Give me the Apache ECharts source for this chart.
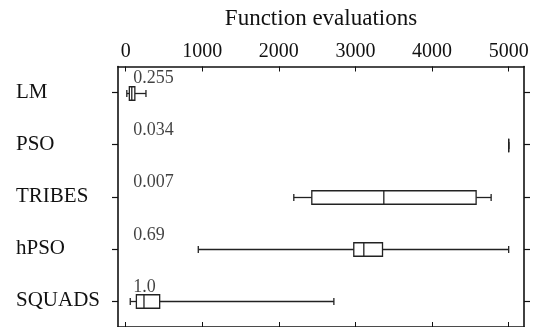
<!DOCTYPE html>
<html>
<head>
<meta charset="utf-8">
<script src="https://cdn.jsdelivr.net/npm/echarts@6/dist/echarts.min.js"></script>
<style>
html,body{margin:0;padding:0;background:#fff;}
#chart{width:536px;height:327px;}
</style>
</head>
<body>
<div id="chart"></div>
<script>
// ---- data ----
const categories = ['LM', 'PSO', 'TRIBES', 'hPSO', 'SQUADS'];
const whiskerLow  = [15,   5000, 2195, 948,  60];
const quartile1   = [48,   5000, 2430, 2978, 140];
const medians     = [80,   5000, 3370, 3109, 239];
const quartile3   = [120,  5000, 4575, 3353, 444];
const whiskerHigh = [265,  5000, 4771, 5000, 2718];
const annotations = ['0.255', '0.034', '0.007', '0.69', '1.0'];
const xTicks = [0, 1000, 2000, 3000, 4000, 5000];

// ---- style ----
const FONT = '"Liberation Serif", "Times New Roman", serif';
const INK = '#111111';
const ANNOT_X = 100;

const boxData = categories.map((c, i) => [i, whiskerLow[i], quartile1[i], medians[i], quartile3[i], whiskerHigh[i]]);
const annotData = categories.map((c, i) => [ANNOT_X, i]);

const chart = echarts.init(document.getElementById('chart'), null, {renderer: 'canvas'});

function renderBox(params, api) {
  const yi = api.value(0);
  const pLo = api.coord([api.value(1), yi]);
  const pQ1 = api.coord([api.value(2), yi]);
  const pMd = api.coord([api.value(3), yi]);
  const pQ3 = api.coord([api.value(4), yi]);
  const pHi = api.coord([api.value(5), yi]);
  const cy = Math.round(pMd[1]) + 0.5;
  const h = 13.5, cap = 7;
  const ls = {stroke: '#222', lineWidth: 1.3, fill: null};
  return {
    type: 'group',
    children: [
      {type: 'line', shape: {x1: pLo[0], y1: cy, x2: pQ1[0], y2: cy}, style: ls},
      {type: 'line', shape: {x1: pQ3[0], y1: cy, x2: pHi[0], y2: cy}, style: ls},
      {type: 'line', shape: {x1: pLo[0], y1: cy - cap / 2, x2: pLo[0], y2: cy + cap / 2}, style: ls},
      {type: 'line', shape: {x1: pHi[0], y1: cy - cap / 2, x2: pHi[0], y2: cy + cap / 2}, style: ls},
      {type: 'rect', shape: {x: pQ1[0], y: cy - h / 2, width: Math.max(pQ3[0] - pQ1[0], 0), height: h},
        style: {stroke: '#222', lineWidth: 1.3, fill: '#fff'}},
      {type: 'line', shape: {x1: pMd[0], y1: cy - h / 2, x2: pMd[0], y2: cy + h / 2}, style: ls}
    ]
  };
}

const axisLineStyle = {color: INK, width: 1.6};

chart.setOption({
  animation: false,
  backgroundColor: '#fff',
  grid: {left: 118, right: 12, top: 66.5, height: 264.5, containLabel: false},
  xAxis: [
    {
      type: 'value', position: 'top', min: -100, max: 5200,
      name: 'Function evaluations', nameLocation: 'middle', nameGap: 36,
      nameTextStyle: {fontFamily: FONT, fontSize: 23, color: INK},
      axisLine: {show: true, onZero: false, lineStyle: axisLineStyle},
      axisTick: {show: true, inside: true, length: 5, customValues: xTicks, lineStyle: {color: INK, width: 1}},
      axisLabel: {show: true, customValues: xTicks, formatter: v => String(v), margin: 5, fontFamily: FONT, fontSize: 20, color: INK},
      splitLine: {show: false}
    },
    {
      type: 'value', position: 'bottom', min: -100, max: 5200,
      axisLine: {show: true, onZero: false, lineStyle: axisLineStyle},
      axisTick: {show: true, inside: true, length: 5, customValues: xTicks, lineStyle: {color: INK, width: 1}},
      axisLabel: {show: false},
      splitLine: {show: false}
    }
  ],
  yAxis: [
    {
      type: 'category', data: categories, inverse: true, position: 'left',
      axisLine: {show: true, onZero: false, lineStyle: axisLineStyle},
      axisTick: {show: true, inside: false, length: 6, alignWithLabel: true, lineStyle: {color: INK, width: 1.2}},
      axisLabel: {show: true, align: 'left', margin: 102, fontFamily: FONT, fontSize: 21, color: INK},
      splitLine: {show: false}
    },
    {
      type: 'category', data: categories, inverse: true, position: 'right',
      axisLine: {show: true, onZero: false, lineStyle: axisLineStyle},
      axisTick: {show: true, inside: false, length: 6, alignWithLabel: true, lineStyle: {color: INK, width: 1.2}},
      axisLabel: {show: false},
      splitLine: {show: false}
    }
  ],
  series: [
    {
      type: 'custom', xAxisIndex: 0, yAxisIndex: 0,
      data: boxData,
      encode: {x: [1, 2, 3, 4, 5], y: 0},
      renderItem: renderBox,
      z: 2
    },
    {
      type: 'scatter', xAxisIndex: 0, yAxisIndex: 0,
      data: annotData,
      symbolSize: 0.1,
      itemStyle: {color: 'transparent'},
      label: {
        show: true, position: 'right', distance: 0, offset: [0, -14],
        formatter: p => annotations[p.dataIndex],
        fontFamily: FONT, fontSize: 18, color: INK
      },
      z: 3
    }
  ]
});
</script>
</body>
</html>
